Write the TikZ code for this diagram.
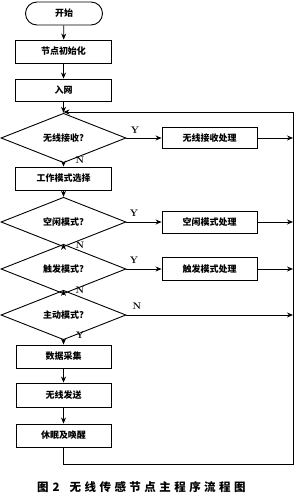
\documentclass[tikz,border=0pt]{standalone}
\usepackage{fontspec}
\newfontfamily\cjk{Noto Sans CJK SC}
\newfontfamily\capfont{Noto Sans CJK SC}[LetterSpace=30]
\usetikzlibrary{shapes.geometric,arrows.meta}
\begin{document}
\begin{tikzpicture}[x=1pt,y=-1pt,
  txt/.style={font=\cjk\bfseries\fontsize{9}{10}\selectfont},
  box/.style={draw,line width=0.9pt,minimum width=96pt,minimum height=23pt,inner sep=0pt,txt},
  rbox/.style={box,minimum width=95pt,minimum height=22pt},
  dec/.style={draw,diamond,line width=0.9pt,minimum width=125pt,minimum height=30pt,inner sep=0pt,txt},
  term/.style={draw,line width=0.9pt,rounded corners=11.5pt,minimum width=77pt,minimum height=23pt,inner sep=0pt,txt},
  arr/.style={line width=0.8pt,-{Stealth[length=6pt,width=5pt]}},
  ln/.style={line width=0.8pt},
  lab/.style={font=\bfseries\fontsize{9.5}{10}\selectfont,inner sep=0pt}
]
\useasboundingbox (0,0) rectangle (300,493);
\fill[white] (0,0) rectangle (300,493);

\node[term] (start) at (64,13.5) {开始};
\node[box] (init) at (63.5,51.5) {节点初始化};
\node[box,minimum height=22pt] (net) at (63.5,90) {入网};
\coordinate (join) at (63.5,112);
\node[dec] (d1) at (63.5,138) {无线接收?};
\node[rbox,minimum height=21pt] (b1) at (209.5,138) {无线接收处理};
\node[box] (mode) at (63.5,178.5) {工作模式选择};
\node[dec] (d2) at (63.5,222) {空闲模式?};
\node[rbox] (b2) at (209.5,222) {空闲模式处理};
\node[dec,minimum height=29pt] (d3) at (63.5,269) {触发模式?};
\node[rbox,minimum height=23pt] (b3) at (209.5,269) {触发模式处理};
\node[dec,minimum height=31pt] (d4) at (63.5,315) {主动模式?};
\node[box,minimum width=95pt] (data) at (63.5,356.5) {数据采集};
\node[box,minimum width=95pt,minimum height=24pt] (send) at (63.5,395) {无线发送};
\node[box,minimum width=95pt] (sleep) at (63.5,435.5) {休眠及唤醒};

\node[lab] (y1) at (135,130) {Y};
\node[lab] (n1) at (80,160) {N};
\node[lab] (y2) at (134,213) {Y};
\node[lab] (n2) at (80,245) {N};
\node[lab] (y3) at (134,260) {Y};
\node[lab] (n3) at (80,290) {N};
\node[lab] (n4) at (137,306) {N};
\node[lab] (y4) at (80,335) {Y};

\coordinate (tr) at (293,112);
\coordinate (br) at (293,464);
\coordinate (bl) at (63.5,464);

\draw[arr] (start) -- (init);
\draw[arr] (init) -- (net);
\draw[arr] (net) -- (d1);
\draw[arr] (d1) -- (b1);
\draw[arr] (d1) -- (mode);
\draw[arr] (mode) -- (d2);
\draw[arr] (d2) -- (b2);
\draw[arr] (d2) -- (d3);
\draw[arr] (d3) -- (b3);
\draw[arr] (d3) -- (d4);
\draw[arr] (d4.east) -- (d4.east -| tr);
\draw[arr] (d4) -- (data);
\draw[arr] (data) -- (send);
\draw[arr] (send) -- (sleep);
\draw[arr] (b1.east) -- (b1.east -| tr);
\draw[arr] (b2.east) -- (b2.east -| tr);
\draw[arr] (b3.east) -- (b3.east -| tr);
\draw[ln] (sleep.south) -- (bl) -- (br) -- (tr);
\draw[arr] (tr) -- (join);

\node[anchor=west,inner sep=0pt,font=\capfont\bfseries\fontsize{11.5}{13}\selectfont] (cap) at (37,487) {图\hspace{4pt}2\hspace{10pt}无线传感节点主程序流程图};
\end{tikzpicture}
\end{document}
